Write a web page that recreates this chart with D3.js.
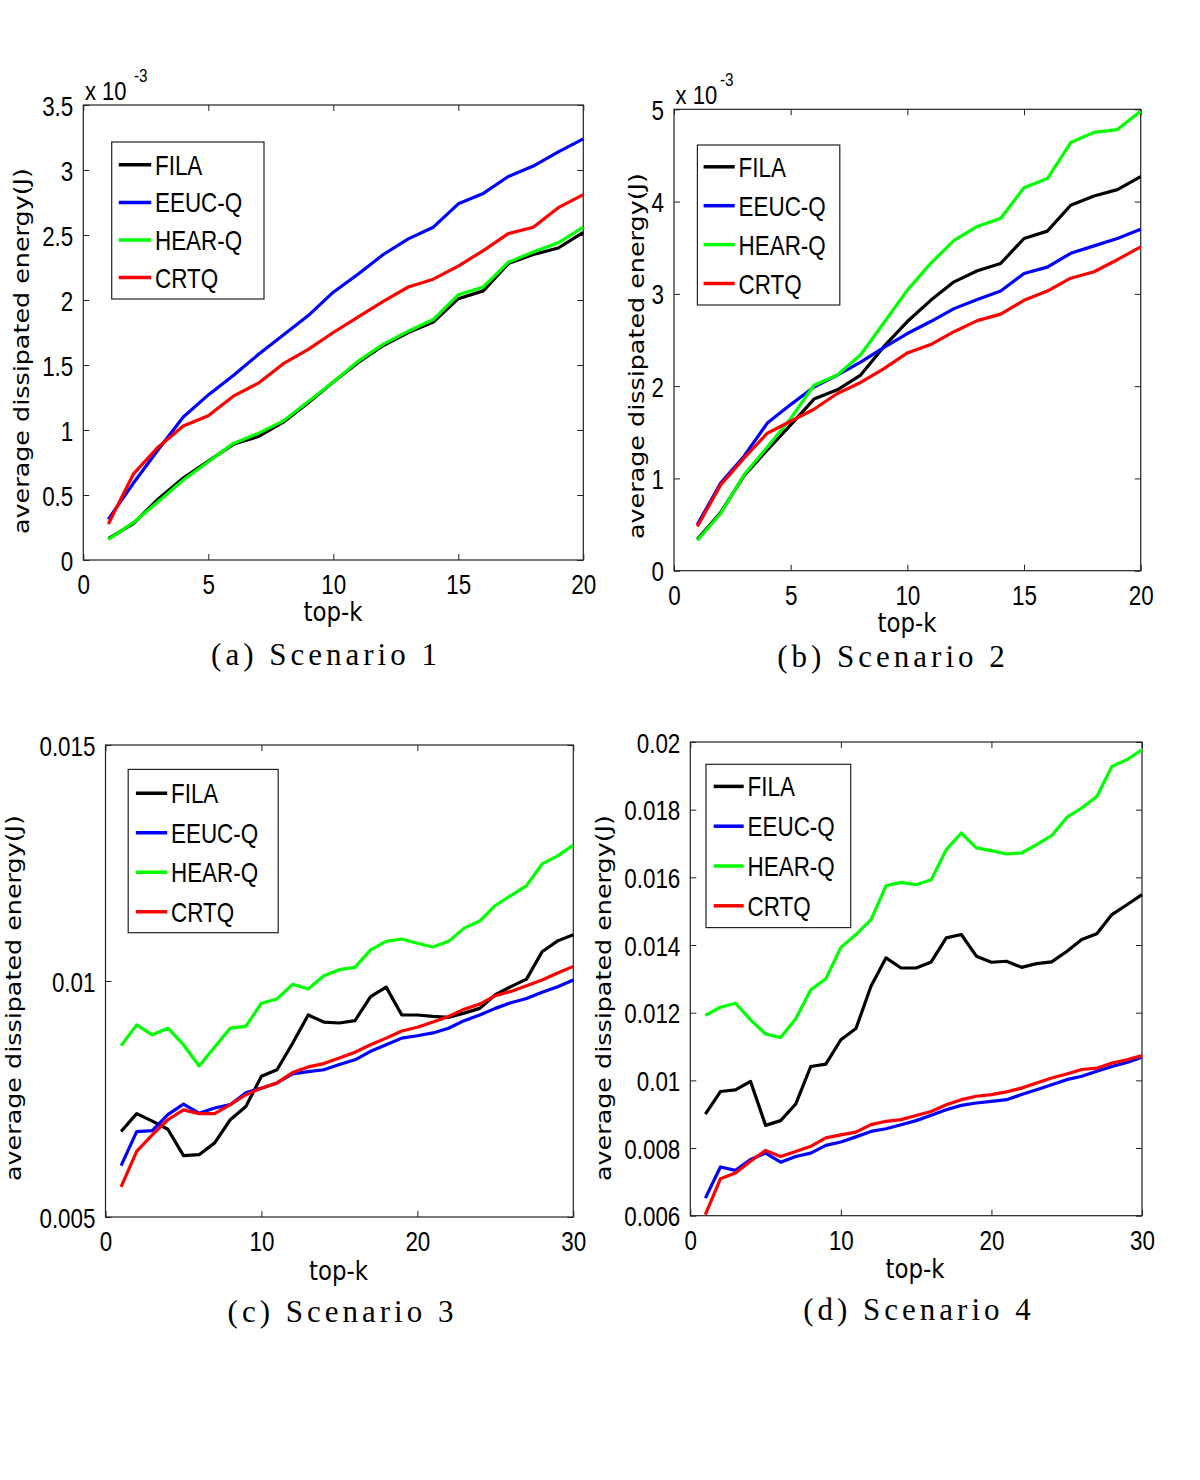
<!DOCTYPE html>
<html lang="en">
<head>
<meta charset="UTF-8">
<script src="https://cdn.jsdelivr.net/npm/d3@7"></script>
<title>average dissipated energy</title>
<style>
    body { margin: 0; background: #fff; }
    svg { display: block; }
    .narrow { font-family: "Liberation Sans", Arial, sans-serif; }
    .label { font-family: "DejaVu Sans", Verdana, sans-serif; }
    .caption { font-family: "Liberation Serif", serif; }
</style>
</head>
<body>
<script>
// legend order = plot order
let methods = ["FILA", "EEUC-Q", "HEAR-Q", "CRTQ"]
let colors = ["#000000", "#0000ff", "#00ff00", "#ff0000"]

let topK20 = [1, 2, 3, 4, 5, 6, 7, 8, 9, 10, 11, 12, 13, 14, 15, 16, 17, 18, 19, 20]
let topK30 = [1, 2, 3, 4, 5, 6, 7, 8, 9, 10, 11, 12, 13, 14, 15, 16, 17, 18, 19, 20,
              21, 22, 23, 24, 25, 26, 27, 28, 29, 30]

// all energies in 10^-3 J
let s1FILA = [0.165, 0.28, 0.47, 0.63, 0.76, 0.89, 0.95, 1.06, 1.21, 1.37, 1.52, 1.65, 1.75, 1.83, 2.01, 2.07, 2.28, 2.35, 2.40, 2.52]
let s1EEUC = [0.313, 0.59, 0.85, 1.10, 1.27, 1.42, 1.58, 1.73, 1.88, 2.06, 2.20, 2.35, 2.47, 2.56, 2.74, 2.82, 2.95, 3.03, 3.14, 3.24]
let s1HEAR = [0.159, 0.287, 0.45, 0.615, 0.756, 0.897, 0.974, 1.07, 1.22, 1.37, 1.53, 1.66, 1.76, 1.85, 2.04, 2.10, 2.29, 2.37, 2.44, 2.56]
let s1CRTQ = [0.277, 0.66, 0.87, 1.03, 1.11, 1.26, 1.36, 1.51, 1.62, 1.75, 1.87, 1.99, 2.10, 2.16, 2.26, 2.38, 2.51, 2.56, 2.71, 2.81]

let s2FILA = [0.34, 0.63, 1.03, 1.31, 1.58, 1.86, 1.96, 2.12, 2.43, 2.70, 2.93, 3.13, 3.25, 3.33, 3.60, 3.68, 3.96, 4.06, 4.13, 4.27]
let s2EEUC = [0.50, 0.95, 1.24, 1.60, 1.80, 1.99, 2.12, 2.26, 2.42, 2.57, 2.70, 2.84, 2.94, 3.03, 3.22, 3.29, 3.44, 3.52, 3.60, 3.70]
let s2HEAR = [0.33, 0.62, 1.04, 1.34, 1.65, 2.01, 2.12, 2.34, 2.69, 3.04, 3.33, 3.58, 3.73, 3.82, 4.15, 4.25, 4.64, 4.75, 4.78, 4.98]
let s2CRTQ = [0.48, 0.93, 1.22, 1.49, 1.62, 1.75, 1.92, 2.04, 2.19, 2.36, 2.45, 2.59, 2.71, 2.78, 2.93, 3.03, 3.17, 3.24, 3.37, 3.51]

let s3FILA = [6.81, 7.19, 7.03, 6.86, 6.30, 6.32, 6.57, 7.06, 7.34, 7.98, 8.12, 8.68, 9.28, 9.13, 9.11,
              9.16, 9.67, 9.87, 9.28, 9.28, 9.25, 9.23, 9.32, 9.42, 9.71, 9.88, 10.04, 10.62, 10.85, 10.98]
let s3EEUC = [6.09, 6.81, 6.83, 7.17, 7.39, 7.20, 7.31, 7.38, 7.63, 7.73, 7.84, 8.03, 8.08, 8.12, 8.23,
              8.33, 8.51, 8.65, 8.79, 8.84, 8.90, 9.00, 9.16, 9.28, 9.42, 9.54, 9.63, 9.76, 9.88, 10.02]
let s3HEAR = [8.63, 9.07, 8.86, 9.00, 8.65, 8.20, 8.60, 9.00, 9.04, 9.53, 9.62, 9.93, 9.83, 10.11, 10.24,
              10.29, 10.66, 10.84, 10.89, 10.80, 10.72, 10.84, 11.12, 11.27, 11.60, 11.81, 12.02, 12.48, 12.65, 12.88]
let s3CRTQ = [5.64, 6.39, 6.74, 7.06, 7.27, 7.19, 7.19, 7.38, 7.59, 7.73, 7.84, 8.06, 8.18, 8.25, 8.37,
              8.49, 8.65, 8.79, 8.94, 9.02, 9.13, 9.25, 9.40, 9.51, 9.69, 9.78, 9.90, 10.02, 10.17, 10.31]

let s4FILA = [9.00, 9.67, 9.72, 9.97, 8.67, 8.81, 9.30, 10.41, 10.48, 11.20, 11.53, 12.78, 13.62, 13.32, 13.32,
              13.50, 14.21, 14.31, 13.67, 13.49, 13.52, 13.34, 13.45, 13.50, 13.81, 14.16, 14.33, 14.90, 15.19, 15.49]
let s4EEUC = [6.52, 7.44, 7.34, 7.66, 7.85, 7.58, 7.75, 7.85, 8.08, 8.18, 8.33, 8.49, 8.57, 8.69, 8.81,
              8.97, 9.13, 9.26, 9.33, 9.38, 9.43, 9.58, 9.72, 9.87, 10.02, 10.12, 10.27, 10.41, 10.53, 10.68]
let s4HEAR = [11.92, 12.16, 12.28, 11.79, 11.37, 11.27, 11.82, 12.68, 13.00, 13.93, 14.31, 14.75, 15.75, 15.85, 15.78,
              15.93, 16.82, 17.31, 16.87, 16.79, 16.69, 16.72, 16.97, 17.23, 17.77, 18.05, 18.39, 19.28, 19.48, 19.77]
let s4CRTQ = [6.03, 7.09, 7.26, 7.61, 7.93, 7.75, 7.90, 8.05, 8.30, 8.39, 8.47, 8.69, 8.79, 8.84, 8.96,
              9.08, 9.28, 9.43, 9.53, 9.58, 9.66, 9.77, 9.92, 10.07, 10.19, 10.32, 10.36, 10.51, 10.61, 10.73]

let xTicks20 = [0, 5, 10, 15, 20]
let xTicks30 = [0, 10, 20, 30]
let yTicks1 = [0, 0.5, 1, 1.5, 2, 2.5, 3, 3.5]
let yTicks2 = [0, 1, 2, 3, 4, 5]
let yTicks3 = [5, 10, 15]
let yTicks4 = [6, 8, 10, 12, 14, 16, 18, 20]

let captions = ["(a) Scenario 1", "(b) Scenario 2", "(c) Scenario 3", "(d) Scenario 4"]

let milli = d => String(d)
let joule = d => String(+(d / 1000).toFixed(3))

let panels = [
    {k: topK20, ys: [s1FILA, s1EEUC, s1HEAR, s1CRTQ], xMax: 20, xTicks: xTicks20, yDom: [0, 3.5], yTicks: yTicks1, fmt: milli,
     box: [83.3, 583.3, 105, 560], exp: [85, 99.5, 134, 82], ylab: [28.5, 351], xlab: [333, 621], cap: [326, 665],
     leg: [111.7, 142, 152.3, 157, 22.8, 37.6, 7, 39.5, 43.3]},
    {k: topK20, ys: [s2FILA, s2EEUC, s2HEAR, s2CRTQ], xMax: 20, xTicks: xTicks20, yDom: [0, 5], yTicks: yTicks2, fmt: milli,
     box: [674, 1140.7, 109.3, 570.7], exp: [675.6, 103.5, 720, 85.7], ylab: [644, 356], xlab: [907, 632], cap: [893, 667],
     leg: [697.4, 145, 142.4, 160, 21.8, 38.9, 6.2, 37.3, 41.2]},
    {k: topK30, ys: [s3FILA, s3EEUC, s3HEAR, s3CRTQ], xMax: 30, xTicks: xTicks30, yDom: [5, 15], yTicks: yTicks3, fmt: joule,
     box: [105.5, 573.3, 745, 1217], exp: null, ylab: [21, 998], xlab: [338.5, 1280], cap: [342.5, 1322],
     leg: [128.2, 769.4, 150, 163.3, 23.8, 39.5, 7.7, 39, 42.8]},
    {k: topK30, ys: [s4FILA, s4EEUC, s4HEAR, s4CRTQ], xMax: 30, xTicks: xTicks30, yDom: [6, 20], yTicks: yTicks4, fmt: joule,
     box: [690.3, 1142, 742, 1215.7], exp: null, ylab: [611, 998], xlab: [915, 1278], cap: [919, 1320],
     leg: [706, 764.3, 144.7, 163.3, 22.1, 39.8, 7.7, 37.7, 41.6]}
]

// the figure was exported stretched: glyphs come out narrower than the font
function squeeze(sel, f) {
    sel.each(function () {
        let len = this.getComputedTextLength()
        d3.select(this).attr("textLength", len * f).attr("lengthAdjust", "spacingAndGlyphs")
    })
}

let svg = d3.select("body").append("svg")
    .attr("width", 1200)
    .attr("height", 1480)

panels.forEach((p, pi) => {
    let [x0, x1, y0, y1] = p.box
    let x = d3.scaleLinear().domain([0, p.xMax]).range([x0, x1])
    let y = d3.scaleLinear().domain(p.yDom).range([y1, y0])
    let g = svg.append("g")

    // box + inward ticks on all four sides
    let axes = [
        [d3.axisBottom(x).tickValues(p.xTicks).tickFormat(d => d), y1, 0],
        [d3.axisTop(x).tickValues(p.xTicks).tickFormat(""), y0, 0],
        [d3.axisLeft(y).tickValues(p.yTicks).tickFormat(p.fmt), x0, 1],
        [d3.axisRight(y).tickValues(p.yTicks).tickFormat(""), x1, 1]
    ]
    axes.forEach(([ax, pos, vert]) => {
        ax.tickSizeInner(-6).tickSizeOuter(0).tickPadding(vert ? 10 : 14)
        let a = g.append("g")
            .attr("transform", vert ? `translate(${pos},0)` : `translate(0,${pos})`)
            .call(ax)
        a.select(".domain").remove()
        a.selectAll(".tick line").attr("stroke", "#222")
        let t = a.selectAll("text")
            .attr("class", "narrow")
            .attr("font-size", 28)
            .attr("fill", "#000")
        if (vert) t.attr("dy", "0.36em")
        squeeze(t.filter(function () { return this.textContent.length > 0 }), 0.8)
    })
    g.append("rect")
        .attr("x", x0).attr("y", y0)
        .attr("width", x1 - x0).attr("height", y1 - y0)
        .attr("fill", "none").attr("stroke", "#222").attr("stroke-width", 1.2)

    // series
    let line = d3.line().x((d, i) => x(p.k[i])).y(d => y(d))
    p.ys.forEach((vals, si) => {
        g.append("path")
            .datum(vals)
            .attr("d", line)
            .attr("fill", "none")
            .attr("stroke", colors[si])
            .attr("stroke-width", 3.2)
            .attr("stroke-linejoin", "round")
    })

    // legend
    let [lx, ly, lw, lh, r0, rs, l1, l2, tx] = p.leg
    g.append("rect")
        .attr("x", lx).attr("y", ly).attr("width", lw).attr("height", lh)
        .attr("fill", "#fff").attr("stroke", "#222").attr("stroke-width", 1.2)
    methods.forEach((m, si) => {
        let cy = ly + r0 + si * rs
        g.append("line")
            .attr("x1", lx + l1).attr("x2", lx + l2)
            .attr("y1", cy).attr("y2", cy)
            .attr("stroke", colors[si]).attr("stroke-width", 3.5)
        g.append("text")
            .attr("class", "narrow")
            .attr("x", lx + tx).attr("y", cy + 10)
            .attr("font-size", 28)
            .text(m)
            .call(squeeze, 0.8)
    })

    // exponent
    if (p.exp) {
        g.append("text").attr("class", "narrow").attr("font-size", 25)
            .attr("x", p.exp[0]).attr("y", p.exp[1]).text("x 10").call(squeeze, 0.88)
        g.append("text").attr("class", "narrow").attr("font-size", 18)
            .attr("x", p.exp[2]).attr("y", p.exp[3]).text("-3").call(squeeze, 0.85)
    }

    // axis labels
    g.append("text")
        .attr("class", "label")
        .attr("font-size", 25.4)
        .attr("text-anchor", "middle")
        .attr("transform", `translate(${p.ylab[0]},${p.ylab[1]}) rotate(-90) scale(1,0.8)`)
        .text("average dissipated energy(J)")
    g.append("text")
        .attr("class", "label")
        .attr("font-size", 26)
        .attr("text-anchor", "middle")
        .attr("x", p.xlab[0]).attr("y", p.xlab[1])
        .text("top-k")
        .call(squeeze, 0.88)

    g.append("text")
        .attr("class", "caption")
        .attr("font-size", 31)
        .attr("letter-spacing", 4)
        .attr("text-anchor", "middle")
        .attr("x", p.cap[0]).attr("y", p.cap[1])
        .text(captions[pi])
})
</script>
</body>
</html>
